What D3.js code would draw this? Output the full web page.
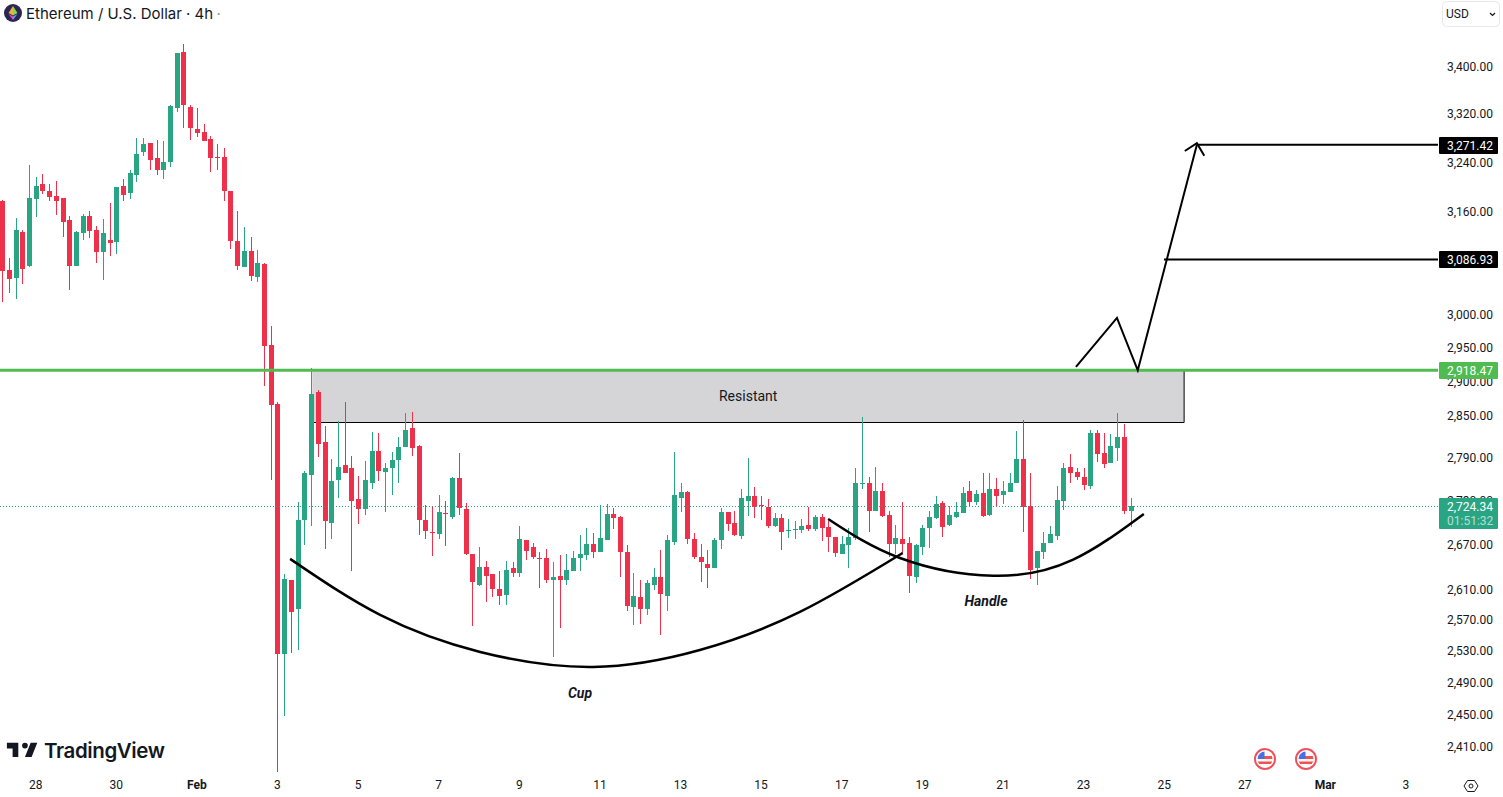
<!DOCTYPE html>
<html>
<head>
<meta charset="utf-8">
<title>Ethereum / U.S. Dollar</title>
<script src="https://cdn.jsdelivr.net/npm/d3@7"></script>
<style>
  html, body { margin: 0; padding: 0; background: #fff; overflow: hidden; }
  svg { display: block; font-family: Roboto, sans-serif; }
  .tick text { font-family: Roboto, sans-serif; font-size: 12px; fill: #131722; }
</style>
</head>
<body>
<svg id="chart" width="1503" height="797"></svg>
<script>
// 4h bars, first one is Jan 27 2025 04:00 UTC
const FIRST_BAR = Date.UTC(2025, 0, 27, 4);
const BAR_MS = 4 * 3600 * 1000;

const opens = [3180,3071,3058,3130,3077,3183,3207,3196,3188,3184,3149,3077,3129,3156,3134,3099,3118,3114,3204,3193,
  3222,3259,3275,3250,3229,3243,3333,3429,3334,3298,3293,3281,3251,3251,3196,3116,3075,3100,3060,3080,
  2956,2869,2528,2625,2587,2706,2768,2886,2815,2702,2761,2782,2777,2735,2721,2757,2802,2772,2777,2789,
  2807,2835,2809,2706,2689,2687,2715,2710,2764,2721,2660,2618,2642,2632,2613,2605,2640,2634,2678,2669,
  2654,2654,2624,2630,2624,2637,2654,2658,2673,2662,2678,2714,2710,2662,2589,2602,2587,2618,2629,2604,
  2676,2736,2744,2680,2656,2646,2641,2678,2717,2702,2684,2732,2739,2726,2724,2698,2708,2691,2692,2692,
  2699,2693,2710,2696,2683,2660,2672,2681,2756,2757,2718,2746,2713,2673,2680,2674,2628,2669,2695,2708,
  2729,2699,2710,2715,2746,2730,2743,2713,2749,2740,2744,2757,2791,2725,2641,2662,2674,2684,2732,2779,
  2772,2765,2753,2828,2799,2785,2806,2822,2718];
const highs = [3181,3089,3153,3134,3238,3219,3224,3207,3212,3184,3156,3132,3159,3164,3140,3151,3176,3202,3215,3230,
  3283,3283,3275,3280,3277,3338,3427,3442,3338,3333,3306,3286,3273,3266,3196,3164,3138,3122,3102,3082,
  2985,2872,2633,2625,2730,2774,2922,2890,2838,2791,2845,2872,2795,2767,2788,2829,2828,2785,2800,2822,
  2856,2858,2810,2726,2725,2740,2732,2765,2799,2729,2660,2669,2650,2633,2637,2650,2648,2698,2678,2674,
  2662,2666,2649,2658,2660,2664,2685,2695,2688,2726,2728,2722,2711,2672,2634,2625,2624,2640,2665,2685,
  2800,2757,2746,2688,2673,2665,2681,2722,2717,2718,2749,2792,2751,2739,2735,2715,2714,2707,2704,2707,
  2724,2713,2714,2704,2683,2684,2695,2777,2851,2765,2779,2757,2718,2699,2730,2683,2673,2699,2718,2739,
  2732,2725,2730,2751,2760,2747,2771,2770,2763,2760,2770,2830,2846,2771,2664,2689,2698,2753,2785,2798,
  2778,2778,2832,2832,2828,2826,2856,2840,2736];
const lows = [3021,3035,3026,3049,3075,3154,3191,3180,3157,3122,3040,3077,3118,3121,3082,3055,3092,3096,3180,3183,
  3211,3253,3230,3222,3215,3235,3326,3299,3280,3285,3277,3227,3230,3180,3103,3071,3075,3054,3052,2896,
  2761,2382,2450,2530,2533,2672,2698,2793,2666,2680,2736,2771,2637,2700,2713,2749,2760,2717,2740,2757,
  2807,2795,2685,2680,2657,2680,2670,2707,2713,2658,2564,2617,2596,2602,2592,2592,2628,2629,2652,2653,
  2614,2620,2524,2562,2618,2636,2636,2652,2654,2662,2678,2693,2629,2584,2566,2567,2579,2612,2552,2584,
  2672,2717,2673,2653,2622,2614,2641,2666,2691,2684,2680,2711,2708,2706,2695,2696,2665,2681,2680,2688,
  2691,2691,2677,2662,2656,2660,2640,2678,2749,2689,2718,2710,2656,2660,2661,2608,2620,2658,2668,2707,
  2683,2698,2708,2715,2725,2726,2710,2711,2724,2728,2744,2757,2689,2626,2618,2653,2674,2678,2719,2757,
  2761,2747,2749,2786,2777,2785,2788,2714,2696];
const closes = [3069,3057,3134,3072,3184,3204,3196,3186,3180,3146,3077,3130,3156,3132,3099,3129,3113,3202,3189,3225,
  3256,3273,3246,3229,3243,3336,3427,3338,3299,3291,3278,3250,3250,3196,3116,3077,3100,3061,3082,2955,
  2868,2528,2626,2583,2706,2770,2883,2812,2704,2760,2779,2771,2732,2721,2761,2802,2774,2777,2789,2807,
  2832,2806,2706,2691,2688,2717,2714,2764,2722,2660,2622,2642,2630,2613,2604,2638,2634,2680,2664,2656,
  2653,2624,2629,2625,2638,2654,2660,2673,2662,2681,2714,2708,2662,2590,2604,2587,2620,2628,2606,2678,
  2740,2744,2680,2656,2648,2641,2678,2717,2700,2685,2736,2739,2724,2725,2698,2708,2689,2692,2693,2698,
  2693,2710,2695,2683,2661,2673,2683,2756,2757,2718,2746,2711,2673,2681,2673,2630,2672,2695,2710,2728,
  2696,2713,2717,2743,2730,2742,2711,2749,2739,2746,2757,2791,2724,2638,2664,2674,2687,2733,2777,2771,
  2765,2754,2828,2798,2784,2809,2822,2718,2724.34];

const priceTicks = [3400,3320,3240,3160,3000,2950,2900,2850,2790,2730,2670,2610,2570,2530,2490,2450,2410];
// day ticks on the time axis
const dayTicks = [Date.UTC(2025,0,28),Date.UTC(2025,0,30),Date.UTC(2025,1,1),Date.UTC(2025,1,3),Date.UTC(2025,1,5),
  Date.UTC(2025,1,7),Date.UTC(2025,1,9),Date.UTC(2025,1,11),Date.UTC(2025,1,13),Date.UTC(2025,1,15),Date.UTC(2025,1,17),
  Date.UTC(2025,1,19),Date.UTC(2025,1,21),Date.UTC(2025,1,23),Date.UTC(2025,1,25),Date.UTC(2025,1,27),Date.UTC(2025,2,1),Date.UTC(2025,2,3)];

const RESIST_PRICE = 2918.47, TARGET_1 = 3086.93, TARGET_2 = 3271.42, LAST_PRICE = 2724.34;

// hand drawn stuff as [bar index, price]
const resistBox = [[46.1, 2918.47], [175.9, 2843.5]];
const target1Start = 172.9;
const target2Start = 177.8;
const moveLine = [[159.8,2923.5],[165.9,2997],[169,2918.47],[177.8,3271.42]];
const arrowHead = [[176,3261],[177.8,3274],[178.9,3253]];
const cupCurve = [[42.8,2652.8],[56.2,2578.7],[71.1,2530.8],[87.9,2511.7],[103.8,2533.3],[118.7,2582.6],[134,2660.8]];
const handleCurve = [[122.9,2707],[133.6,2654],[147.5,2630.2],[159.3,2651.5],[169.9,2713.9]];
const flagBars = [187.9, 194];

const UP = "#2aa583", DOWN = "#ef304a", LINE_GREEN = "#4fbb50", TEXT = "#131722";
const AXIS_X = 1439, PLOT_RIGHT = 1438;

const svg = d3.select("#chart");

const x = d3.scaleUtc()
  .domain([FIRST_BAR, FIRST_BAR + 168 * BAR_MS])
  .range([2.6, 2.6 + 168 * 6.717]);
const y = d3.scaleLog()
  .domain([TARGET_2, RESIST_PRICE])
  .range([144.7, 370.3]);

const xBar = i => x(FIRST_BAR + i * BAR_MS);
const lineGen = d3.line().x(d => xBar(d[0])).y(d => y(d[1]));

// resistance zone goes under the candles
const bx0 = xBar(resistBox[0][0]), bx1 = xBar(resistBox[1][0]);
const by0 = y(resistBox[0][1]), by1 = Math.round(y(resistBox[1][1])) + 0.5;
svg.append("rect")
  .attr("x", bx0).attr("y", by0)
  .attr("width", bx1 - bx0).attr("height", by1 - by0)
  .attr("fill", "#d5d5d8");
svg.append("path")
  .attr("d", `M${bx0},${by1}H${bx1}V${by0}`)
  .attr("fill", "none").attr("stroke", "#000").attr("stroke-width", 1);

svg.append("text")
  .attr("x", (bx0 + bx1) / 2).attr("y", 401)
  .attr("text-anchor", "middle")
  .attr("font-size", 14).attr("fill", TEXT)
  .text("Resistant");

// candles
const bars = d3.range(opens.length);
const candle = svg.append("g").selectAll("g")
  .data(bars)
  .enter()
  .append("g")
  .attr("fill", i => closes[i] >= opens[i] ? UP : DOWN);
candle.append("rect")  // wick
  .attr("x", i => Math.floor(xBar(i)))
  .attr("y", i => Math.round(y(highs[i])))
  .attr("width", 1)
  .attr("height", i => Math.round(y(lows[i])) - Math.round(y(highs[i])));
candle.append("rect")  // body
  .attr("x", i => Math.floor(xBar(i)) - 2)
  .attr("y", i => Math.round(y(Math.max(opens[i], closes[i]))))
  .attr("width", 5)
  .attr("height", i => Math.max(1, Math.round(y(Math.min(opens[i], closes[i]))) - Math.round(y(Math.max(opens[i], closes[i])))));

// last price dotted line
svg.append("line")
  .attr("x1", 0).attr("x2", PLOT_RIGHT)
  .attr("y1", Math.round(y(LAST_PRICE)) + 0.5).attr("y2", Math.round(y(LAST_PRICE)) + 0.5)
  .attr("stroke", UP).attr("stroke-width", 1).attr("stroke-dasharray", "1,2");

// green resistance line
svg.append("line")
  .attr("x1", 0).attr("x2", PLOT_RIGHT)
  .attr("y1", y(RESIST_PRICE)).attr("y2", y(RESIST_PRICE))
  .attr("stroke", LINE_GREEN).attr("stroke-width", 3);

// target lines
[[target1Start, TARGET_1], [target2Start, TARGET_2]].forEach(t => {
  svg.append("line")
    .attr("x1", xBar(t[0])).attr("x2", PLOT_RIGHT)
    .attr("y1", y(t[1])).attr("y2", y(t[1]))
    .attr("stroke", "#000").attr("stroke-width", 2);
});

svg.append("path").attr("d", lineGen(moveLine))
  .attr("fill", "none").attr("stroke", "#000").attr("stroke-width", 2);
svg.append("path").attr("d", lineGen(arrowHead))
  .attr("fill", "none").attr("stroke", "#000").attr("stroke-width", 2);

const curveGen = d3.line().x(d => xBar(d[0])).y(d => y(d[1])).curve(d3.curveNatural);
[cupCurve, handleCurve].forEach(c => {
  svg.append("path").attr("d", curveGen(c))
    .attr("fill", "none").attr("stroke", "#000").attr("stroke-width", 2.5);
});

svg.append("text").attr("x", 580).attr("y", 698)
  .attr("text-anchor", "middle").attr("font-size", 14).attr("font-weight", 700).attr("font-style", "italic")
  .attr("fill", TEXT).text("Cup");
svg.append("text").attr("x", 986).attr("y", 606)
  .attr("text-anchor", "middle").attr("font-size", 14).attr("font-weight", 700).attr("font-style", "italic")
  .attr("fill", TEXT).text("Handle");

// price axis
const yAxis = d3.axisRight(y).tickValues(priceTicks).tickSize(0).tickPadding(8).tickFormat(d3.format(",.2f"));
svg.append("g").attr("transform", `translate(${AXIS_X},-1.5)`).call(yAxis)
  .call(g => g.select(".domain").remove());

// time axis
const xAxis = d3.axisBottom(x).tickValues(dayTicks).tickSize(0).tickPadding(0)
  .tickFormat(d => {
    const dt = new Date(d);
    return dt.getUTCDate() === 1 ? d3.utcFormat("%b")(dt) : dt.getUTCDate();
  });
svg.append("g").attr("transform", "translate(-1,780)").call(xAxis)
  .call(g => g.select(".domain").remove())
  .selectAll("text")
  .attr("font-weight", d => new Date(d).getUTCDate() === 1 ? 700 : 400)
  .style("font-weight", d => new Date(d).getUTCDate() === 1 ? 700 : 400);

// price labels
function priceBox(price, fill, boxH) {
  const cy = y(price);
  svg.append("rect")
    .attr("x", AXIS_X).attr("y", Math.round(cy) - 8)
    .attr("width", 59).attr("height", boxH)
    .attr("rx", 1)
    .attr("fill", fill);
  svg.append("text")
    .attr("x", 1447).attr("y", Math.round(cy) + 4.5)
    .attr("font-size", 12).attr("fill", "#fff")
    .text(d3.format(",.2f")(price));
}
priceBox(TARGET_2, "#000", 17);
priceBox(TARGET_1, "#000", 17);
priceBox(RESIST_PRICE, LINE_GREEN, 17);
priceBox(LAST_PRICE, UP, 31);
svg.append("text")
  .attr("x", 1447).attr("y", Math.round(y(LAST_PRICE)) + 18.5)
  .attr("font-size", 12).attr("fill", "#fff").attr("fill-opacity", 0.65)
  .text("01:51:32");

// header
const head = svg.append("g");
head.append("circle").attr("cx", 13).attr("cy", 13).attr("r", 9).attr("fill", "#2b2550");
head.append("path").attr("d", "M13,6L17.5,13L13,15.5Z").attr("fill", "#7ed957");
head.append("path").attr("d", "M13,6L8.5,13L13,15.5Z").attr("fill", "#e9b23f");
head.append("path").attr("d", "M13,16.6L17.5,14L13,20Z").attr("fill", "#4fa6ef");
head.append("path").attr("d", "M13,16.6L8.5,14L13,20Z").attr("fill", "#d94fd0");
head.append("text").attr("x", 26).attr("y", 19)
  .attr("font-family", "Inter").attr("font-size", 15).attr("fill", TEXT)
  .text("Ethereum / U.S. Dollar · 4h");
head.append("text").attr("x", 216.5).attr("y", 19)
  .attr("font-family", "Inter").attr("font-size", 15).attr("fill", "#9598a1")
  .text("·");

// currency select
svg.append("rect").attr("x", 1442.5).attr("y", 1.5).attr("width", 57).attr("height", 25).attr("rx", 4)
  .attr("fill", "#fff").attr("stroke", "#e6e8ee");
svg.append("text").attr("x", 1446).attr("y", 18).attr("font-size", 12).attr("fill", TEXT).text("USD");
svg.append("path").attr("d", "M1490,13L1492.5,15.5L1495,13")
  .attr("fill", "none").attr("stroke", TEXT).attr("stroke-width", 1.2);

// logo
svg.append("path")
  .attr("d", "M14 6H2v6h6v9h6V6zm14 15h-7l6-15h7l-6 15zm-7-9a3 3 0 1 0 0-6 3 3 0 0 0 0 6z")
  .attr("transform", "translate(5,737) scale(0.95)")
  .attr("fill", TEXT);
svg.append("text").attr("x", 44).attr("y", 758)
  .attr("font-family", "Inter").attr("font-size", 20.5).attr("font-weight", 600).attr("fill", TEXT)
  .attr("letter-spacing", -0.4)
  .text("TradingView");

// event flags
const defs = svg.append("defs");
defs.append("clipPath").attr("id", "flagClip").append("circle").attr("r", 7.5);
const flag = svg.selectAll("g.flag")
  .data(flagBars)
  .enter()
  .append("g")
  .attr("class", "flag")
  .attr("transform", d => `translate(${Math.round(xBar(d))},759)`);
flag.append("circle").attr("r", 10).attr("fill", "#fff").attr("stroke", "#f0505c").attr("stroke-width", 2);
const inner = flag.append("g").attr("clip-path", "url(#flagClip)");
inner.append("rect").attr("x", -8).attr("y", -8).attr("width", 16).attr("height", 16).attr("fill", "#f6f6f6");
inner.append("rect").attr("x", -1).attr("y", -3).attr("width", 9).attr("height", 3).attr("fill", "#ef5350");
inner.append("rect").attr("x", -8).attr("y", 2.5).attr("width", 16).attr("height", 2.5).attr("fill", "#ef5350");
inner.append("rect").attr("x", -8).attr("y", -8).attr("width", 7.5).attr("height", 8).attr("fill", "#4a6fe3");

// settings icon
svg.append("path")
  .attr("d", "M1464,786L1467.5,780.5H1474.5L1478,786L1474.5,791.5H1467.5Z")
  .attr("fill", "none").attr("stroke", TEXT).attr("stroke-width", 1);
svg.append("circle").attr("cx", 1471).attr("cy", 786).attr("r", 2)
  .attr("fill", "none").attr("stroke", TEXT).attr("stroke-width", 1);
</script>
</body>
</html>
